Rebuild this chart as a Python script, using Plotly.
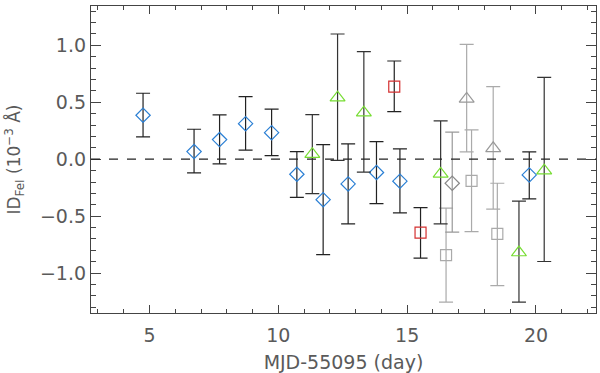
import plotly.graph_objects as go

# blue diamonds
dia_x = [4.75, 6.73, 7.72, 8.73, 9.74, 10.72, 11.74, 12.71, 13.81, 14.72, 19.74]
dia_y = [0.386, 0.067, 0.172, 0.312, 0.233, -0.132, -0.355, -0.217, -0.117, -0.193, -0.138]
dia_hi = [0.579, 0.263, 0.389, 0.549, 0.439, 0.067, 0.128, 0.134, 0.154, 0.09, 0.064]
dia_lo = [0.196, -0.12, -0.041, 0.079, 0.032, -0.335, -0.837, -0.568, -0.389, -0.471, -0.348]

# green triangles
tri_x = [11.32, 12.30, 13.32, 16.30, 19.34, 20.32]
tri_y = [0.044, 0.54, 0.409, -0.129, -0.819, -0.1]
tri_hi = [0.391, 1.099, 0.944, 0.336, -0.368, 0.719]
tri_lo = [-0.302, -0.01, -0.113, -0.568, -1.254, -0.898]

# red squares
sq_x = [14.50, 15.52]
sq_y = [0.637, -0.644]
sq_hi = [0.862, -0.425]
sq_lo = [0.418, -0.869]

# gray points
gdia_x = [16.75]
gdia_y = [-0.211]
gdia_hi = [0.237]
gdia_lo = [-0.64]

gtri_x = [17.31, 18.34]
gtri_y = [0.529, 0.096]
gtri_hi = [1.009, 0.637]
gtri_lo = [0.064, -0.439]

gsq_x = [16.51, 17.50, 18.50]
gsq_y = [-0.842, -0.19, -0.655]
gsq_hi = [-0.43, 0.257, -0.211]
gsq_lo = [-1.254, -0.635, -1.109]


def pts(xs, ys, hi, lo, symbol, color, ecolor, size=11):
    return go.Scatter(
        x=xs, y=ys, mode='markers',
        marker=dict(symbol=symbol, size=size, color=color, line=dict(width=1.2, color=color)),
        error_y=dict(type='data', symmetric=False,
                     array=[h - v for h, v in zip(hi, ys)],
                     arrayminus=[v - l for l, v in zip(lo, ys)],
                     color=ecolor, thickness=1.2, width=7),
        showlegend=False)


fig = go.Figure()
fig.add_trace(pts(gsq_x, gsq_y, gsq_hi, gsq_lo, 'square-open', '#aaaaaa', '#aaaaaa'))
fig.add_trace(pts(gtri_x, gtri_y, gtri_hi, gtri_lo, 'triangle-up-open', '#999999', '#aaaaaa', 13))
fig.add_trace(pts(gdia_x, gdia_y, gdia_hi, gdia_lo, 'diamond-open', '#888888', '#999999'))
fig.add_trace(pts(dia_x, dia_y, dia_hi, dia_lo, 'diamond-open', '#2a7fd4', '#222222'))
fig.add_trace(pts(tri_x, tri_y, tri_hi, tri_lo, 'triangle-up-open', '#77dd33', '#333333', 13))
fig.add_trace(pts(sq_x, sq_y, sq_hi, sq_lo, 'square-open', '#d43030', '#222222'))

fig.add_hline(y=0, line=dict(color='#222222', width=1.2, dash='dash'))

axis_font = dict(family='DejaVu Sans, Liberation Sans, sans-serif', size=19, color='#5a5a5a')
fig.update_layout(
    width=600, height=373,
    margin=dict(l=91, r=4, t=6, b=60),
    plot_bgcolor='white', paper_bgcolor='white',
    font=axis_font,
    xaxis=dict(range=[2.73, 22.33], tickvals=[5, 10, 15, 20], ticks='inside', ticklen=8,
               tickcolor='#444444', mirror='ticks', showline=True, linecolor='#444444',
               linewidth=1.3, showgrid=False, zeroline=False, automargin=False,
               ticklabelstandoff=5,
               minor=dict(ticks='inside', dtick=1, tick0=0, ticklen=4, tickcolor='#444444'),
               title=dict(text='MJD-55095 (day)', standoff=10, font=axis_font)),
    yaxis=dict(range=[-1.35, 1.345], tickvals=[-1.0, -0.5, 0.0, 0.5, 1.0], tickformat='.1f',
               ticks='inside', ticklen=10, tickcolor='#444444', mirror='ticks', showline=True,
               linecolor='#444444', linewidth=1.3, showgrid=False, zeroline=False,
               automargin=False,
               minor=dict(ticks='inside', dtick=0.1, tick0=0, ticklen=5, tickcolor='#444444'),
               title=dict(text='ID<sub>FeI</sub> (10<sup>−3</sup> Å)', standoff=14,
                          font=dict(family='DejaVu Sans, sans-serif', size=17, color='#5a5a5a'))),
)

fig.write_html("out.html", config={'displayModeBar': False},
               post_script="document.body.style.margin='0';")
